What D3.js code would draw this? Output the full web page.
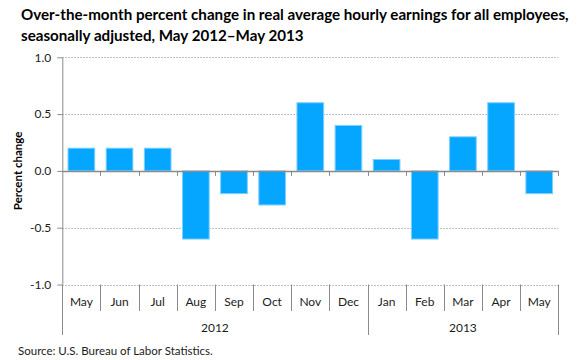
<!DOCTYPE html>
<html>
<head>
<meta charset="utf-8">
<script src="https://cdn.jsdelivr.net/npm/d3@7"></script>
<style>
  html, body { margin: 0; padding: 0; background: #fff; }
  svg { display: block; }
  text { font-family: Lato, "Open Sans", sans-serif; }
</style>
</head>
<body>
<svg id="chart" width="580" height="360"></svg>
<script>
const months = ["May","Jun","Jul","Aug","Sep","Oct","Nov","Dec","Jan","Feb","Mar","Apr","May"];
const years = ["2012","2012","2012","2012","2012","2012","2012","2012","2013","2013","2013","2013","2013"];
const values = [0.2, 0.2, 0.2, -0.6, -0.2, -0.3, 0.6, 0.4, 0.1, -0.6, 0.3, 0.6, -0.2];
const yTicks = [-1.0, -0.5, 0.0, 0.5, 1.0];
const titleLines = ["Over-the-month percent change in real average hourly earnings for all employees,",
                    "seasonally adjusted, May 2012\u2013May 2013"];
const yTitle = "Percent change";
const source = "Source: U.S. Bureau of Labor Statistics.";

const svg = d3.select("#chart");
const pL = 62.3, pR = 558.3, pT = 57.3, pB = 284.5;
const axisColor = "#8a8a8a", gridColor = "#ababab", textColor = "#1c1c1c";

const idx = d3.range(months.length);
const x = d3.scaleBand().domain(idx).range([pL, pR]).padding(0);
const y = d3.scaleLinear().domain([-1, 1]).range([pB, pT]);

// Title
const title = svg.append("g");
titleLines.forEach((t, i) => {
  title.append("text").attr("x", 21).attr("y", 20 + i * 21)
    .attr("font-size", 13.5).attr("font-weight", "bold").attr("fill", "#000").text(t);
});
const w0 = title.select("text").node().getComputedTextLength();
const fs = 13.5 * 548 / w0;
title.selectAll("text").attr("font-size", fs);

// Gridlines (dotted)
svg.append("g").selectAll("line").data(yTicks.filter(d => d !== 0)).join("line")
  .attr("x1", pL).attr("x2", pR)
  .attr("y1", d => Math.round(y(d)) + 0.5).attr("y2", d => Math.round(y(d)) + 0.5)
  .attr("stroke", gridColor).attr("stroke-width", 1).attr("stroke-dasharray", "1.5,1.5");

// Bars
const bw = x.bandwidth() * 0.7;
svg.append("g").selectAll("rect").data(values).join("rect")
  .attr("x", (d, i) => x(i) + (x.bandwidth() - bw) / 2)
  .attr("width", bw)
  .attr("y", d => y(Math.max(0, d)))
  .attr("height", d => Math.abs(y(d) - y(0)))
  .attr("fill", "#05a6ff")
  .attr("stroke", "#7fd0ff").attr("stroke-width", 1);

// Y axis
const yAxis = d3.axisLeft(y).tickValues(yTicks).tickFormat(d => d3.format(".1f")(d).replace("\u2212", "-")).tickSize(5).tickPadding(6);
const gy = svg.append("g").attr("transform", `translate(${pL},0)`).call(yAxis);
gy.select(".domain").attr("stroke", axisColor).attr("d", `M0.5,${pT}V${pB}`);
gy.selectAll(".tick line").attr("stroke", axisColor);
gy.selectAll(".tick text").attr("font-size", 12).attr("fill", textColor)
  .attr("font-family", "Lato, 'Open Sans', sans-serif");

// Zero line
svg.append("line").attr("x1", pL).attr("x2", pR)
  .attr("y1", Math.round(y(0)) + 0.5).attr("y2", Math.round(y(0)) + 0.5)
  .attr("stroke", axisColor).attr("stroke-width", 1.5);

// small ticks on zero line at category boundaries
const bx = i => Math.round(i < months.length ? x(i) : pR) + 0.5;
svg.append("g").selectAll("line").data(d3.range(1, months.length + 1)).join("line")
  .attr("x1", bx).attr("x2", bx)
  .attr("y1", y(0)).attr("y2", y(0) + 5)
  .attr("stroke", axisColor);

// Category axis (months)
const boundaries = d3.range(0, months.length + 1);
const isYearBoundary = i => i === 0 || i === months.length || years[i] !== years[i - 1];
svg.append("g").selectAll("line").data(boundaries).join("line")
  .attr("x1", bx).attr("x2", bx)
  .attr("y1", pB)
  .attr("y2", i => isYearBoundary(i) ? 335 : 311)
  .attr("stroke", axisColor);

svg.append("g").selectAll("text").data(months).join("text")
  .attr("x", (d, i) => x(i) + x.bandwidth() / 2)
  .attr("y", 306)
  .attr("text-anchor", "middle")
  .attr("font-size", 12).attr("fill", textColor).text(d => d);

// Year labels
const yearGroups = d3.groups(idx, i => years[i]);
svg.append("g").selectAll("text").data(yearGroups).join("text")
  .attr("x", d => (x(d[1][0]) + x(d[1][d[1].length - 1]) + x.bandwidth()) / 2)
  .attr("y", 332)
  .attr("text-anchor", "middle")
  .attr("font-size", 12).attr("fill", textColor).text(d => d[0]);

// Y title
svg.append("text")
  .attr("transform", `translate(22,${y(0)}) rotate(-90)`)
  .attr("text-anchor", "middle")
  .attr("font-size", 11.5).attr("font-weight", "bold").attr("fill", "#000").text(yTitle);

// Source
svg.append("text").attr("x", 18).attr("y", 355)
  .attr("font-size", 11.5).attr("fill", textColor).text(source);
</script>
</body>
</html>
